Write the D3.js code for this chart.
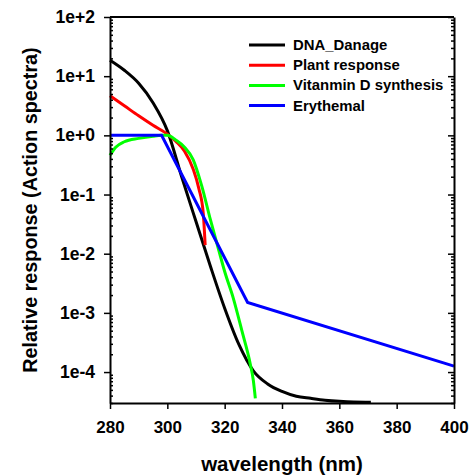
<!DOCTYPE html>
<html>
<head>
<meta charset="utf-8">
<script src="https://cdn.jsdelivr.net/npm/d3@7"></script>
<style>
  body { margin: 0; background: #fff; }
  text { font-family: "Liberation Sans", Arial, sans-serif; font-weight: bold; fill: #000; }
  .domain { stroke: #000; stroke-width: 2; }
  .tick line { stroke: #000; stroke-width: 1.5; }
</style>
</head>
<body>
<div id="chart"></div>
<script>
// wavelength (nm) and relative response for each action spectrum
var dnaWave = [280, 285, 290, 295, 300, 305, 310, 315, 320, 325, 330, 335, 340, 345, 350, 355, 360, 365, 371];
var dnaValue = [18.6, 12.6, 7.6, 3.55, 1.2, 0.2, 0.035, 0.0062, 0.0012, 2.9e-4, 1.05e-4, 6.3e-5, 4.7e-5, 3.9e-5, 3.6e-5, 3.35e-5, 3.2e-5, 3.12e-5, 3.1e-5];

var plantWave = [280, 285, 290, 295, 300, 303, 306, 309, 311, 312.5, 313.2];
var plantValue = [4.65, 3.16, 2.14, 1.48, 1.05, 0.79, 0.54, 0.27, 0.126, 0.05, 0.014];

var vitDWave = [280, 282, 285, 290, 295, 298, 300, 303, 306, 309, 312, 315, 318, 320, 323, 326, 329, 330, 330.7];
var vitDValue = [0.46, 0.63, 0.78, 0.89, 0.97, 1.0, 1.0, 0.83, 0.63, 0.39, 0.14, 0.038, 0.0112, 0.005, 0.00178, 5.0e-4, 1.32e-4, 7.2e-5, 3.6e-5];

var eryWave = [280, 298, 328, 400];
var eryValue = [1.0, 1.0, 0.0015, 0.000126];

var seriesNames = ["DNA_Danage", "Plant response", "Vitanmin D synthesis", "Erythemal"];
var seriesColors = ["#000000", "#ff0000", "#00ff00", "#0000ff"];

var xTicks = [280, 300, 320, 340, 360, 380, 400];
var yTicks = [1e2, 1e1, 1e0, 1e-1, 1e-2, 1e-3, 1e-4];
var yTickLabels = ["1e+2", "1e+1", "1e+0", "1e-1", "1e-2", "1e-3", "1e-4"];

var svgWidth = 469;
var svgHeight = 476;

var margin = { top: 17, right: 15, bottom: 73, left: 110 };
var width = svgWidth - margin.left - margin.right;
var height = svgHeight - margin.top - margin.bottom;

var svg = d3.select("#chart")
  .append("svg")
  .attr("width", svgWidth)
  .attr("height", svgHeight);

var chartGroup = svg.append("g")
  .attr("transform", `translate(${margin.left}, ${margin.top})`);

var xScale = d3.scaleLinear().domain([280, 400]).range([0, width]);
var yScale = d3.scaleLog().domain([3e-5, 100]).range([height, 0]);

// minor ticks 2..9 in every decade
var yMinor = [];
for (var e = -5; e <= 1; e++) {
  for (var m = 2; m <= 9; m++) {
    var v = m * Math.pow(10, e);
    if (v >= 3e-5 && v <= 100) yMinor.push(v);
  }
}

// curves
var line = d3.line()
  .x(d => xScale(d[0]))
  .y(d => yScale(d[1]))
  .curve(d3.curveMonotoneX);

var lineStraight = d3.line()
  .x(d => xScale(d[0]))
  .y(d => yScale(d[1]));

var series = [
  { wave: dnaWave, value: dnaValue, gen: line },
  { wave: plantWave, value: plantValue, gen: line },
  { wave: vitDWave, value: vitDValue, gen: line },
  { wave: eryWave, value: eryValue, gen: lineStraight }
];

series.forEach(function(s, i) {
  var pts = s.wave.map((w, j) => [w, s.value[j]]);
  chartGroup.append("path")
    .attr("d", s.gen(pts))
    .attr("fill", "none")
    .attr("stroke", seriesColors[i])
    .attr("stroke-width", 3);
});

// x axis
var xAxis = chartGroup.append("g")
  .attr("transform", `translate(0, ${height})`)
  .call(d3.axisBottom(xScale).tickValues(xTicks).tickSize(6).tickSizeOuter(0).tickPadding(12));
xAxis.selectAll("text").style("font-size", "17px");

// left axis, major outside, minor inside
var yAxis = chartGroup.append("g")
  .call(d3.axisLeft(yScale).tickValues(yTicks).tickSize(6).tickSizeOuter(0).tickPadding(9)
    .tickFormat((d, i) => yTickLabels[i]));
yAxis.selectAll("text").style("font-size", "17.5px");

chartGroup.append("g")
  .call(d3.axisRight(yScale).tickValues(yMinor).tickSize(3).tickSizeOuter(0).tickFormat(""))
  .select(".domain").remove();

// right axis, ticks pointing in
var yRight = chartGroup.append("g")
  .attr("transform", `translate(${width}, 0)`)
  .call(d3.axisLeft(yScale).tickValues(yTicks).tickSize(6).tickSizeOuter(0).tickFormat(""));
chartGroup.append("g")
  .attr("transform", `translate(${width}, 0)`)
  .call(d3.axisLeft(yScale).tickValues(yMinor).tickSize(3).tickSizeOuter(0).tickFormat(""))
  .select(".domain").remove();

// top frame line
chartGroup.append("line")
  .attr("x1", 0).attr("x2", width)
  .attr("y1", 0).attr("y2", 0)
  .attr("stroke", "#000")
  .attr("stroke-width", 2);

// axis titles
svg.append("text")
  .attr("x", margin.left + width / 2)
  .attr("y", 471)
  .attr("text-anchor", "middle")
  .style("font-size", "20.5px")
  .text("wavelength (nm)");

svg.append("text")
  .attr("transform", "rotate(-90)")
  .attr("x", -(margin.top + height / 2))
  .attr("y", 37)
  .attr("text-anchor", "middle")
  .style("font-size", "19.8px")
  .text("Relative response (Action spectra)");

// legend
var legend = svg.append("g")
  .attr("transform", "translate(249, 45)");

seriesNames.forEach(function(name, i) {
  var row = legend.append("g").attr("transform", `translate(0, ${i * 20.2})`);
  row.append("line")
    .attr("x1", 0).attr("x2", 36)
    .attr("y1", 0).attr("y2", 0)
    .attr("stroke", seriesColors[i])
    .attr("stroke-width", 3);
  row.append("text")
    .attr("x", 44)
    .attr("y", 5)
    .style("font-size", "14.9px")
    .text(name);
});
</script>
</body>
</html>
